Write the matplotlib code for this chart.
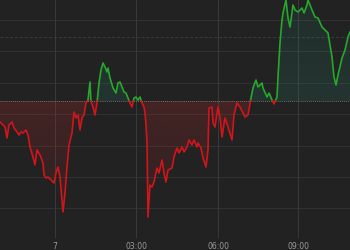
import numpy as np
import matplotlib
matplotlib.use("Agg")
import matplotlib.pyplot as plt
from matplotlib.path import Path
from matplotlib.patches import PathPatch
from matplotlib.colors import to_rgb

# time axis (chart sample position) and price values
t = [0, 5, 7, 9, 12, 14, 17, 19, 21, 23, 26, 28, 30, 33, 35, 37, 40, 43, 44, 46,
     48, 51, 54, 56, 58, 60, 62, 63, 65, 67, 69, 72, 74, 76, 78, 80, 82, 84, 86, 88,
     90, 91, 93, 95, 97, 99, 101, 103, 105, 107, 108, 110, 113, 116, 118, 120, 122, 124, 126, 128,
     130, 132, 134, 136, 138, 140, 142, 144, 145, 146, 147, 148, 150, 152, 154, 157, 159, 162, 164, 166,
     168, 172, 174, 177, 179, 182, 184, 187, 189, 192, 194, 197, 198, 201, 203, 206, 208, 209, 212, 213,
     215, 218, 220, 222, 225, 228, 232, 234, 237, 240, 245, 248, 250, 253, 256, 258, 262, 263, 267, 269,
     272, 274, 277, 278, 280, 282, 283, 286, 288, 290, 293, 295, 298, 302, 304, 307, 308, 312, 315, 318,
     322, 325, 328, 332, 334, 336, 338, 342, 345, 348, 350]
price = [111.8, 111.3, 110.2, 111.5, 111.8, 111.2, 110.8, 110.5, 110.8, 110.7, 111.0, 110.5, 109.3, 108.3, 107.5, 109.0, 108.5, 107.7, 106.5, 106.2,
         106.3, 106.0, 105.7, 106.7, 107.3, 106.3, 104.0, 102.8, 104.7, 107.3, 109.5, 110.7, 112.8, 112.2, 112.5, 111.0, 112.2, 112.5, 113.7, 114.0,
         115.8, 113.8, 113.3, 112.5, 113.7, 115.7, 117.0, 117.7, 117.3, 116.8, 117.2, 116.2, 115.2, 114.7, 115.7, 115.8, 115.3, 114.8, 114.7, 114.2,
         113.7, 113.3, 114.2, 114.3, 114.0, 114.3, 113.7, 113.3, 112.7, 111.5, 109.7, 102.3, 105.5, 105.3, 105.8, 107.2, 106.7, 108.0, 106.7, 105.8,
         107.0, 107.2, 108.3, 109.2, 108.7, 109.3, 108.8, 109.3, 110.0, 109.5, 110.0, 109.3, 109.7, 109.2, 108.2, 107.3, 109.0, 113.2, 113.3, 111.7,
         111.3, 113.3, 112.3, 110.3, 112.2, 111.3, 110.0, 112.5, 113.7, 113.3, 112.3, 112.5, 113.7, 115.2, 116.0, 115.3, 115.7, 115.2, 114.3, 114.7,
         114.0, 113.6, 114.3, 116.3, 119.7, 122.0, 122.7, 124.0, 122.2, 121.3, 123.5, 123.0, 122.8, 123.2, 122.7, 123.5, 124.0, 123.0, 122.3, 122.2,
         121.3, 121.0, 120.7, 118.3, 116.3, 115.5, 116.5, 118.2, 119.0, 120.3, 120.8]
prev_close = 113.9
day_line = 120.3
grid_levels = [122.0, 118.86, 115.72, 112.58, 109.44, 106.30, 103.16]
tick_pos = [55, 136, 218, 298]
tick_labels = ["7", "03:00", "06:00", "09:00"]

BG = "#222222"
GREEN = "#26a82c"
RED = "#d1151b"

fig = plt.figure(figsize=(3.5, 2.5), dpi=100, facecolor=BG)
ax = fig.add_axes([0, 12 / 250, 1, 238 / 250])
ax.set_facecolor(BG)

t = np.array(t, dtype=float)
v = np.array(price, dtype=float)

# insert crossing points with the previous close so colours switch exactly there
xs, vs = [], []
for i in range(len(t) - 1):
    xs.append(t[i]); vs.append(v[i])
    if (v[i] - prev_close) * (v[i + 1] - prev_close) < 0:
        f = (prev_close - v[i]) / (v[i + 1] - v[i])
        xs.append(t[i] + f * (t[i + 1] - t[i])); vs.append(prev_close)
xs.append(t[-1]); vs.append(v[-1])
xs = np.array(xs); vs = np.array(vs)

ymin, ymax = 100.2, 124.0
xmin, xmax = 0, 350


def gradient_fill(where, color, a_top, a_bottom, y0, y1):
    coll = ax.fill_between(xs, vs, prev_close, where=where, interpolate=True,
                           facecolor="none", edgecolor="none")
    paths = coll.get_paths()
    if not paths:
        return
    path = Path.make_compound_path(*paths)
    patch = PathPatch(path, transform=ax.transData, facecolor="none", edgecolor="none")
    ax.add_patch(patch)
    rgba = np.zeros((256, 1, 4))
    rgba[..., :3] = to_rgb(color)
    rgba[:, 0, 3] = np.linspace(a_bottom, a_top, 256)
    im = ax.imshow(rgba, extent=[xmin, xmax, y0, y1], origin="lower",
                   aspect="auto", zorder=1, interpolation="bilinear")
    im.set_clip_path(patch)


gradient_fill(vs >= prev_close, "#2a9a80", 0.10, 0.16, prev_close, ymax)
gradient_fill(vs <= prev_close, "#c0282c", 0.22, 0.04, ymin, prev_close)

# grid
for g in grid_levels:
    ax.axhline(g, color="#323232", lw=0.7, zorder=0.5)
for p in tick_pos:
    ax.axvline(p, color="#3a3a3a", lw=0.7, zorder=0.5)
ax.axhline(day_line, color="#383d38", lw=0.7, ls=(0, (3, 2)), zorder=0.6)
ax.axhline(prev_close, color="#8a8a8a", lw=0.6, ls=(0, (1, 1.5)), zorder=2)

up = np.ma.masked_where(vs < prev_close, vs)
dn = np.ma.masked_where(vs > prev_close, vs)
ax.plot(xs, up, color=GREEN, lw=1.2, zorder=3, solid_joinstyle="round")
ax.plot(xs, dn, color=RED, lw=1.2, zorder=3, solid_joinstyle="round")

ax.set_xlim(xmin, xmax)
ax.set_ylim(ymin, ymax)
ax.set_xticks(tick_pos)
ax.set_xticklabels(tick_labels)
ax.set_yticks([])
ax.tick_params(axis="x", length=0, pad=3, labelsize=5.5, colors="#9a9a9a")
for s in ax.spines.values():
    s.set_visible(False)

fig.savefig("out.png", dpi=100, facecolor=BG)
